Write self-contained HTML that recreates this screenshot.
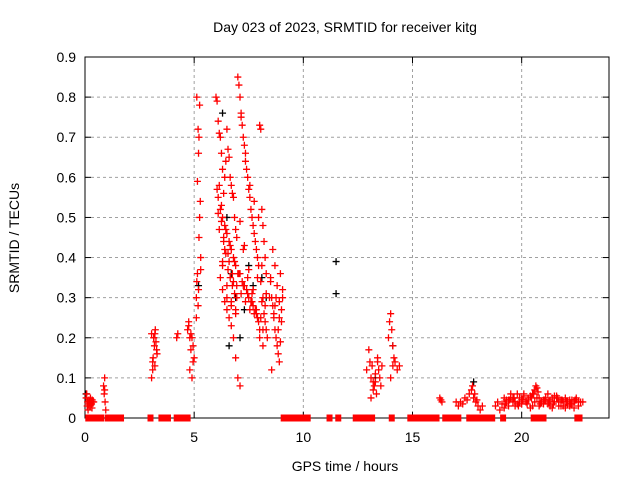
<!DOCTYPE html>
<html><head><meta charset="utf-8"><style>
body{margin:0;background:#fff}
svg{display:block;font-family:"Liberation Sans",sans-serif}
</style></head><body>
<svg id="c" width="640" height="480">
<rect width="640" height="480" fill="#fff"/>
<text x="345" y="32" text-anchor="middle" font-size="14">Day 023 of 2023, SRMTID for receiver kitg</text>
<text x="345" y="471" text-anchor="middle" font-size="14">GPS time / hours</text>
<text transform="translate(19,238) rotate(-90)" text-anchor="middle" font-size="14">SRMTID / TECUs</text>
<g id="grid"></g><g id="axes"></g><g id="marks"></g>
</svg>
<script>
const xTicks=[0,5,10,15,20];
const yTicks=[0,0.1,0.2,0.3,0.4,0.5,0.6,0.7,0.8,0.9];
const redX=[0.05,0.1,0.12,0.15,0.18,0.2,0.22,0.25,0.28,0.3,0.33,0.35,0.4,0.08,0.14,0.24,0.32,
0.85,0.88,0.9,0.92,0.95,0.9,
3.05,3.1,3.12,3.15,3.18,3.2,3.22,3.25,3.28,3.1,3.15,3.2,3.3,3.05,
4.2,4.25,
4.7,4.75,4.8,4.85,4.9,4.95,5.0,4.8,4.9,4.85,4.95,4.75,
5.1,5.12,5.15,5.18,5.2,5.22,5.25,5.28,5.3,5.15,5.2,5.12,5.25,5.18,5.22,5.3,5.1,
6.0,6.05,6.1,6.15,6.2,6.25,6.3,6.35,6.4,6.45,6.5,6.55,6.6,6.65,6.7,6.75,6.8,6.85,6.9,6.95,
6.1,6.2,6.3,6.4,6.5,6.6,6.7,6.8,6.9,7.0,6.15,6.25,6.35,6.45,6.55,6.65,6.75,6.85,6.95,
6.2,6.3,6.4,6.5,6.6,6.7,6.8,6.9,7.0,7.1,6.3,6.5,6.7,6.9,6.4,6.6,6.8,
7.0,7.05,7.1,7.15,7.2,7.25,7.3,7.35,7.4,7.45,7.5,7.55,7.6,7.65,7.7,7.75,7.8,7.85,7.9,7.95,
7.1,7.2,7.3,7.4,7.5,7.6,7.7,7.8,7.9,8.0,7.15,7.35,7.55,7.75,7.95,7.25,7.45,7.65,7.85,
8.0,8.05,8.1,8.15,8.2,8.25,8.3,8.05,8.15,8.25,8.1,8.2,8.3,8.0,8.15,
8.5,8.55,8.6,8.65,8.7,8.75,8.8,8.85,8.9,8.95,9.0,9.05,8.6,8.7,8.8,8.9,9.0,8.55,8.75,8.95,8.65,8.85,9.05,
6.05,6.25,6.45,6.65,6.85,7.05,7.25,7.45,7.65,7.85,8.05,8.25,8.45,6.15,6.35,6.55,6.75,6.95,7.15,7.35,7.55,7.75,7.95,8.15,8.35,
6.1,6.3,6.5,6.7,6.9,7.1,7.3,7.5,7.7,7.9,8.1,8.3,8.5,8.7,8.9,
12.9,13.0,13.05,13.1,13.15,13.2,13.25,13.3,13.35,13.4,13.45,13.5,13.55,13.6,13.1,13.2,13.3,13.4,
13.9,13.95,14.0,14.05,14.1,14.15,14.0,14.1,14.2,14.3,14.4,
16.25,16.3,16.35,
17.0,17.1,17.2,17.3,17.4,17.5,17.6,17.7,17.8,17.9,18.0,18.1,18.2,17.75,17.85,17.95,
18.8,18.9,19.0,19.1,19.2,19.3,19.4,19.5,19.6,19.7,19.8,19.9,20.0,20.1,20.2,20.3,20.4,20.5,20.6,20.65,20.7,20.75,20.8,20.9,21.0,21.1,21.2,21.3,21.4,21.5,21.6,21.7,21.8,21.9,22.0,22.1,22.2,22.3,22.4,22.5,22.6,22.7,22.8,
19.2,19.4,19.6,19.8,20.0,20.2,20.4,20.6,20.8,21.0,21.2,21.4,21.6,21.8,22.0,22.2,22.4,22.6,
19.3,19.5,19.7,19.9,20.1,20.3,20.5,20.7,20.9,21.1,21.3,21.5,21.7,21.9,22.1,22.3,22.5,
19.25,19.45,19.65,19.85,20.05,20.25,20.45,20.55,20.85,21.05,21.25,21.45,21.65,21.85,22.05,22.25,22.45];
const redY=[0.05,0.03,0.04,0.035,0.045,0.04,0.03,0.05,0.04,0.035,0.045,0.04,0.04,0.06,0.02,0.03,0.025,
0.08,0.06,0.1,0.04,0.02,0.07,
0.1,0.12,0.15,0.2,0.18,0.21,0.22,0.19,0.17,0.14,0.2,0.13,0.16,0.21,
0.2,0.21,
0.22,0.24,0.2,0.21,0.2,0.18,0.15,0.12,0.1,0.17,0.14,0.23,
0.3,0.34,0.36,0.28,0.32,0.45,0.5,0.54,0.4,0.59,0.66,0.8,0.78,0.72,0.7,0.37,0.25,
0.8,0.79,0.74,0.71,0.7,0.66,0.62,0.56,0.6,0.64,0.72,0.67,0.65,0.6,0.58,0.56,0.55,0.5,0.47,0.45,
0.55,0.52,0.5,0.48,0.46,0.44,0.42,0.4,0.38,0.36,0.58,0.49,0.45,0.41,0.37,0.35,0.33,0.31,0.3,
0.35,0.32,0.29,0.27,0.25,0.23,0.2,0.15,0.1,0.08,0.38,0.3,0.28,0.26,0.42,0.39,0.34,
0.85,0.83,0.8,0.76,0.73,0.7,0.68,0.66,0.62,0.6,0.57,0.55,0.52,0.5,0.48,0.46,0.44,0.42,0.4,0.38,
0.36,0.34,0.33,0.32,0.3,0.29,0.28,0.27,0.25,0.22,0.75,0.64,0.58,0.54,0.5,0.42,0.35,0.31,0.26,
0.73,0.72,0.52,0.48,0.44,0.4,0.36,0.34,0.3,0.28,0.38,0.26,0.22,0.2,0.18,
0.35,0.3,0.28,0.25,0.22,0.2,0.18,0.16,0.14,0.19,0.27,0.32,0.42,0.38,0.33,0.29,0.24,0.12,0.3,0.36,0.26,0.22,0.3,
0.57,0.53,0.47,0.43,0.39,0.36,0.33,0.31,0.29,0.27,0.25,0.24,0.3,0.47,0.44,0.41,0.36,0.33,0.31,0.29,0.27,0.26,0.24,0.22,0.2,
0.51,0.39,0.33,0.29,0.27,0.49,0.43,0.37,0.32,0.35,0.29,0.31,0.34,0.28,0.25,
0.12,0.17,0.14,0.1,0.13,0.09,0.08,0.11,0.06,0.14,0.12,0.1,0.08,0.13,0.05,0.07,0.09,0.15,
0.2,0.24,0.26,0.22,0.18,0.15,0.1,0.13,0.14,0.12,0.13,
0.05,0.045,0.04,
0.04,0.03,0.04,0.035,0.05,0.045,0.06,0.07,0.05,0.04,0.03,0.02,0.03,0.08,0.06,0.045,
0.03,0.04,0.02,0.035,0.05,0.04,0.045,0.06,0.05,0.04,0.035,0.05,0.045,0.06,0.04,0.05,0.055,0.06,0.07,0.08,0.075,0.065,0.05,0.04,0.045,0.05,0.035,0.045,0.05,0.04,0.055,0.04,0.045,0.03,0.05,0.04,0.045,0.035,0.04,0.045,0.03,0.04,0.04,
0.025,0.03,0.04,0.06,0.035,0.04,0.025,0.04,0.03,0.035,0.06,0.025,0.05,0.03,0.025,0.03,0.025,0.04,
0.045,0.05,0.03,0.04,0.055,0.045,0.03,0.05,0.04,0.045,0.03,0.055,0.03,0.04,0.035,0.045,0.05,
0.035,0.045,0.05,0.03,0.045,0.035,0.05,0.06,0.035,0.045,0.04,0.035,0.05,0.045,0.04,0.035,0.045];
const zeroX=[0.15,0.3,0.5,0.75,1.05,1.15,1.25,1.35,1.45,1.55,1.65,3.0,3.5,3.65,3.8,4.2,4.35,4.6,4.7,9.1,9.25,9.4,9.55,9.7,9.85,10.0,10.2,11.2,11.6,12.4,12.55,12.7,12.85,13.0,13.15,14.05,14.9,15.05,15.2,15.35,15.5,15.65,15.8,15.95,16.1,16.5,16.65,16.8,16.95,17.1,17.6,17.75,17.9,18.05,18.2,18.35,18.5,18.65,19.15,20.55,20.65,20.9,21.0,22.55,22.65];
const blackX=[6.3,6.5,6.7,6.9,7.1,7.3,7.5,7.7,8.1,8.3,11.5,11.5,13.3,14.1,17.8,5.2,0.05,6.6];
const blackY=[0.76,0.5,0.36,0.3,0.2,0.27,0.38,0.33,0.35,0.3,0.39,0.31,0.1,0.18,0.09,0.33,0.06,0.18];
const X0=85,X1=609,Y0=418,Y1=57;
const xs=h=>X0+h/24*(X1-X0);
const ys=v=>Y0-v/0.9*(Y0-Y1);
const NS="http://www.w3.org/2000/svg";
function mk(t,a,p){const e=document.createElementNS(NS,t);for(const k in a)e.setAttribute(k,a[k]);p.appendChild(e);return e;}
const grid=document.getElementById('grid'),axes=document.getElementById('axes'),marks=document.getElementById('marks');
xTicks.forEach(t=>{const x=xs(t);
if(t>0){const g=mk('line',{x1:x,x2:x,y1:Y1,y2:Y0,stroke:'#a0a0a0','stroke-dasharray':'3,3'},grid);

}
mk('line',{x1:x,x2:x,y1:Y0,y2:Y0-6,stroke:'#000'},axes);mk('line',{x1:x,x2:x,y1:Y1,y2:Y1+6,stroke:'#000'},axes);
const l=mk('text',{x:x,y:442,'text-anchor':'middle','font-size':14},axes);l.textContent=t;

});
yTicks.forEach(t=>{const y=ys(t);
if(t>0&&t<0.9){const g=mk('line',{x1:X0,x2:X1,y1:y,y2:y,stroke:'#a0a0a0','stroke-dasharray':'3,3'},grid);

}
mk('line',{x1:X0,x2:X0+6,y1:y,y2:y,stroke:'#000'},axes);mk('line',{x1:X1,x2:X1-6,y1:y,y2:y,stroke:'#000'},axes);
const l=mk('text',{x:X0-9,y:y+5,'text-anchor':'end','font-size':14},axes);l.textContent=(t===0?'0':t.toFixed(1));

});
const fr=mk('rect',{x:X0,y:Y1,width:X1-X0,height:Y0-Y1,fill:'none',stroke:'#000'},axes);


function plus(x,y,c,name){const p=mk('path',{d:`M${x-3.5},${y}h7M${x},${y-3.5}v7`,stroke:c,'stroke-width':1.3,fill:'none'},marks);

}
blackX.forEach((h,i)=>plus(xs(h),ys(blackY[i]),'#000','black-point'));
redX.forEach((h,i)=>plus(xs(h),ys(redY[i]),'#f00','red-point'));
zeroX.forEach(h=>{const r=mk('rect',{x:xs(h)-3,y:Y0-3.5,width:6,height:7,fill:'#f00'},marks);

});
</script>
</body></html>
